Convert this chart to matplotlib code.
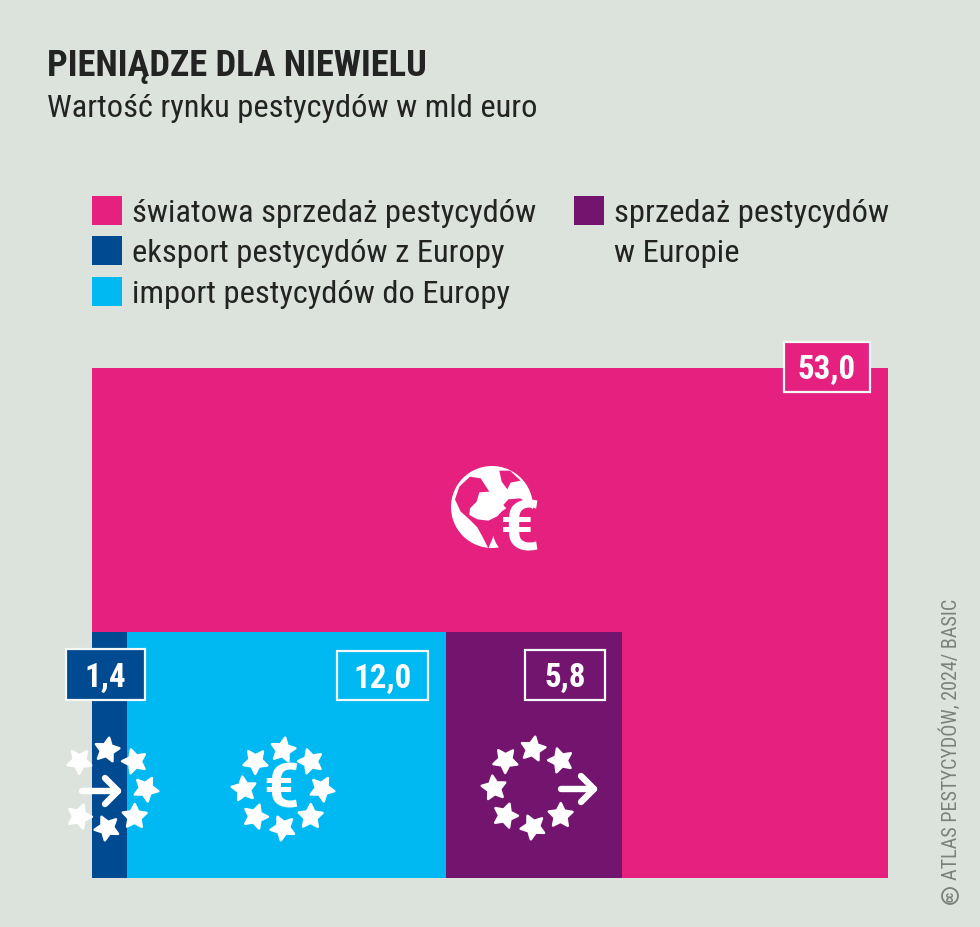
import numpy as np
import matplotlib
matplotlib.use("Agg")
import matplotlib.pyplot as plt
from matplotlib.patches import Rectangle, Circle, Polygon
from matplotlib import font_manager as fm

BG = "#DCE3DD"
PINK = "#E5207F"
NAVY = "#004A92"
SKY = "#00B9F2"
PURPLE = "#73146F"
DARK = "#232323"
GREY = "#7C807D"

title = "PIENIĄDZE DLA NIEWIELU"
subtitle = "Wartość rynku pestycydów w mld euro"
credit = "ATLAS PESTYCYDÓW, 2024/ BASIC"

# values in mld euro
names = ["światowa sprzedaż pestycydów", "eksport pestycydów z Europy",
         "import pestycydów do Europy", "sprzedaż pestycydów\nw Europie"]
values = ["53,0", "1,4", "12,0", "5,8"]
colors = [PINK, NAVY, SKY, PURPLE]

# block sizes, scaled so the big block is 53 wide
block_w = [53.0, 2.33, 21.24, 11.72]
block_h = [33.96, 16.38, 16.38, 16.38]
block_x = [0.0, 0.0, 2.33, 23.57]

installed = {f.name for f in fm.fontManager.ttflist}
FONT = "Roboto"
for cand in ["Roboto Condensed", "Liberation Sans Narrow", "Roboto"]:
    if cand in installed:
        FONT = cand
        break
plt.rcParams["font.family"] = [FONT, "DejaVu Sans"]

W, H = 980, 927
fig = plt.figure(figsize=(W/100, H/100), dpi=100, facecolor=BG)

# chart axes, blocks come from the arrays above
ax = fig.add_axes([92/W, (H-878)/H, 796/W, 510/H])
ax.set_xlim(0, 53)
ax.set_ylim(0, 33.96)
ax.axis("off")
ax.bar(block_x, block_h, width=block_w, align="edge", color=colors, linewidth=0)

# overlay in pixel coordinates for texts and icons
ov = fig.add_axes([0, 0, 1, 1], zorder=5)
ov.set_xlim(0, W)
ov.set_ylim(H, 0)
ov.axis("off")
ov.patch.set_alpha(0)


def px(v):
    return v*0.72


def star(cx, cy, r, rot):
    pts = []
    for i in range(10):
        a = np.radians(-90 + rot + i*36)
        rr = r if i % 2 == 0 else r*0.5
        pts.append((cx + rr*np.cos(a), cy + rr*np.sin(a)))
    ov.add_patch(Polygon(pts, closed=True, fc="white", ec="white", lw=1.8, joinstyle="round"))


def ring(cx, cy, skip=()):
    for i in range(8):
        if i in skip:
            continue
        ang = np.radians(-90 + i*45)
        star(cx + 39*np.cos(ang), cy + 39*np.sin(ang), 12.5, i*45 + 10)


def arrow(x0, x1, y):
    ov.plot([x0, x1], [y, y], color="white", lw=4.6, solid_capstyle="round")
    ov.plot([x1-13, x1, x1-13], [y-13, y, y+13], color="white", lw=4.6,
            solid_capstyle="round", solid_joinstyle="round")


def value_box(x0, y0, x1, y1, txt, fc):
    ov.add_patch(Rectangle((x0, y0), x1-x0, y1-y0, fc=fc, ec="#F4F8F6", lw=1.6))
    ov.text((x0+x1)/2, (y0+y1)/2+3, txt, color="white", fontsize=px(33), fontweight="bold",
            ha="center", va="center")


# header
ov.text(46.5, 76, title, fontsize=px(36.4), fontweight="bold", color=DARK, va="baseline")
ov.text(46.5, 117, subtitle, fontsize=px(32.5), color=DARK, va="baseline")

# legend
leg_x = [92, 92, 92, 574]
leg_y = [196, 236, 277, 196]
for i in range(4):
    ov.add_patch(Rectangle((leg_x[i], leg_y[i]), 30, 29, fc=colors[i], lw=0))
    lines = names[i].split("\n")
    for j, l in enumerate(lines):
        ov.text(leg_x[i]+40, leg_y[i]+26+j*40.5, l, fontsize=px(32.5), color=DARK, va="baseline")

# value boxes
value_box(784, 342, 870, 392, values[0], PINK)
value_box(66, 649, 145, 700, values[1], NAVY)
value_box(337, 651, 428, 700, values[2], SKY)
value_box(525, 650, 605, 700, values[3], PURPLE)

# globe icon
ov.add_patch(Circle((492, 507), 41, fc="white", lw=0))
off = np.array([420, 440])
seas = [
    [(105, 178), (118, 140), (150, 110), (182, 115), (195, 135), (208, 155), (178, 157), (170, 185),
     (150, 205), (148, 225), (172, 238), (205, 242), (240, 225), (235, 262), (222, 285), (205, 325),
     (190, 295), (172, 262), (145, 235), (122, 215)],
    [(238, 92), (270, 92), (302, 122), (272, 128), (262, 148), (245, 125)],
    [(250, 195), (265, 178), (300, 175), (330, 192), (335, 215), (280, 230)],
]
for s in seas:
    ov.add_patch(Polygon(np.array(s)/3 + off, closed=True, fc=PINK, lw=0))
ov.add_patch(Circle((519, 531), 26, fc=PINK, lw=0))
ov.text(520, 531, "€", family="Roboto", fontsize=px(70), fontweight="bold", color="white",
        ha="center", va="center")

# star icons
ring(107, 789, skip=(6,))
arrow(82, 118, 791)
ring(283, 789)
ov.text(281, 790, "€", family="Roboto", fontsize=px(62), fontweight="bold", color="white",
        ha="center", va="center")
ring(533, 788, skip=(2,))
arrow(561, 594, 789)

# credit
ov.text(950, 880, credit, rotation=90, fontsize=px(20.2), color=GREY, ha="center", va="bottom")
ov.add_patch(Circle((950, 896), 8, fc="none", ec=GREY, lw=1.3))
ov.text(950, 896, "cc", rotation=90, fontsize=px(12), color=GREY, ha="center", va="center", fontweight="bold")

fig.savefig("out.png", dpi=100, facecolor=BG)
